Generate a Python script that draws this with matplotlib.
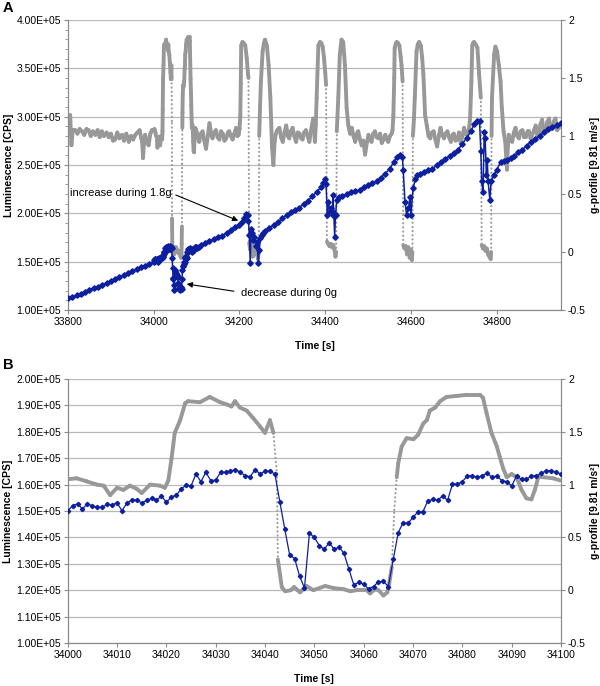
import numpy as np
import matplotlib.pyplot as plt
from matplotlib.collections import LineCollection
from matplotlib.ticker import FuncFormatter, MultipleLocator

plt.rcParams['font.family'] = ['Liberation Sans', 'DejaVu Sans']
plt.rcParams['font.size'] = 7.5

GRAY = '#989898'
BLUE = '#0c1f9e'
GRID = '#b8b8b8'
AXC = '#8a8a8a'

# ---- panel B : 34000-34100 s (luminescence every second, in 1e5 CPS)
lum_b_t = np.arange(34000, 34101)
lum_b = [1.500, 1.520, 1.527, 1.508, 1.527, 1.520, 1.514, 1.514, 1.525, 1.523,
         1.531, 1.501, 1.530, 1.542, 1.542, 1.530, 1.540, 1.548, 1.540, 1.557,
         1.533, 1.553, 1.560, 1.583, 1.598, 1.595, 1.640, 1.611, 1.647, 1.615,
         1.617, 1.647, 1.646, 1.651, 1.657, 1.647, 1.633, 1.630, 1.657, 1.640,
         1.651, 1.651, 1.640, 1.535, 1.432, 1.333, 1.320, 1.254, 1.208, 1.416,
         1.400, 1.369, 1.355, 1.380, 1.355, 1.363, 1.340, 1.280, 1.220, 1.230,
         1.223, 1.205, 1.214, 1.232, 1.233, 1.214, 1.317, 1.418, 1.456, 1.453,
         1.476, 1.497, 1.497, 1.538, 1.544, 1.540, 1.558, 1.540, 1.602, 1.602,
         1.611, 1.633, 1.633, 1.628, 1.633, 1.643, 1.628, 1.633, 1.615, 1.611,
         1.595, 1.633, 1.620, 1.620, 1.633, 1.633, 1.643, 1.653, 1.653, 1.647,
         1.640]

# g-profile (time, g)
g_b = [(34000, 1.05), (34001.8, 1.06), (34003.9, 1.03), (34005.9, 1.00), (34007.3, 0.99),
       (34008.6, 0.90), (34010, 0.97), (34011.3, 0.95), (34012.6, 0.99), (34014, 0.96),
       (34015, 0.92), (34016.7, 1.00), (34018.7, 0.99), (34019.7, 0.97), (34020.4, 1.04),
       (34021, 1.23), (34021.7, 1.49), (34022.8, 1.61), (34023.8, 1.77), (34024.4, 1.79),
       (34026.8, 1.78), (34028.8, 1.83), (34030.9, 1.78), (34032.2, 1.76), (34033.2, 1.74),
       (34033.9, 1.79), (34034.9, 1.73), (34036.3, 1.70), (34037.6, 1.63), (34039, 1.55),
       (34040, 1.49), (34041, 1.61), (34041.7, 1.49), (34042.4, 1.11), (34042.6, 0.29),
       (34043.4, 0.03), (34044.1, -0.01), (34045.2, 0.00), (34045.9, 0.03), (34046.6, 0.00),
       (34047.1, -0.02), (34048.4, 0.04), (34049.8, 0.00), (34052.2, 0.04), (34053.9, 0.02),
       (34055.9, 0.01), (34057.3, -0.01), (34058.6, 0.00), (34060.6, 0.00), (34061.3, -0.03),
       (34062.3, 0.01), (34063, 0.00), (34064, -0.05), (34064.8, -0.02), (34065.2, 0.07),
       (34065.7, 0.22), (34066.2, 0.76), (34066.7, 1.07), (34067, 1.20), (34067.7, 1.36),
       (34068.7, 1.44), (34070.1, 1.43), (34071, 1.47), (34072.1, 1.58), (34072.8, 1.61),
       (34073.4, 1.70), (34074.5, 1.73), (34075.5, 1.79), (34076.8, 1.83), (34078.9, 1.84),
       (34080.9, 1.85), (34083.6, 1.85), (34084.2, 1.82), (34084.9, 1.68), (34085.9, 1.49),
       (34087, 1.36), (34087.6, 1.26), (34088.3, 1.15), (34089, 1.07), (34090, 1.10),
       (34091, 1.07), (34092, 0.95), (34093, 0.87), (34094, 0.86), (34094.7, 0.95),
       (34095.4, 1.07), (34096.4, 1.07), (34098.4, 1.06), (34099.8, 1.04)]

# ---- panel A : whole run, outside the panel B window
lum_a_pre_t = np.arange(33800, 34000, 10)
lum_a_pre = [1.12, 1.13, 1.15, 1.17, 1.19, 1.21, 1.23, 1.24, 1.26, 1.28,
             1.30, 1.32, 1.34, 1.36, 1.38, 1.40, 1.42, 1.44, 1.46, 1.48]

lum_a_post = [(34105, 1.65), (34110, 1.67), (34120, 1.69), (34130, 1.71), (34140, 1.73),
              (34150, 1.75), (34160, 1.77), (34170, 1.80), (34180, 1.83), (34190, 1.86),
              (34200, 1.88), (34205, 1.91), (34210, 1.95), (34215, 1.99), (34219, 1.98),
              (34221, 1.92), (34223, 1.78), (34225, 1.49), (34227, 1.84), (34229, 1.80),
              (34232, 1.72), (34235, 1.75), (34238, 1.66), (34241, 1.70), (34244, 1.49),
              (34246, 1.62), (34249, 1.74), (34252, 1.78), (34256, 1.80), (34260, 1.82),
              (34270, 1.85), (34280, 1.88), (34290, 1.91), (34300, 1.95), (34310, 1.98),
              (34320, 2.01), (34330, 2.03), (34340, 2.06), (34350, 2.10), (34360, 2.13),
              (34370, 2.18), (34380, 2.22), (34390, 2.27), (34395, 2.31), (34400, 2.35),
              (34402, 2.30), (34405, 1.98), (34407, 2.12), (34411, 2.02), (34414, 2.05),
              (34417, 1.98), (34418, 2.19), (34420, 2.00), (34422, 1.76), (34424, 1.98),
              (34427, 2.14), (34432, 2.17), (34440, 2.18), (34450, 2.20), (34460, 2.22),
              (34470, 2.23), (34480, 2.24), (34490, 2.27), (34500, 2.29), (34510, 2.31),
              (34520, 2.33), (34530, 2.37), (34540, 2.41), (34550, 2.46), (34560, 2.53),
              (34567, 2.58), (34575, 2.60), (34580, 2.58), (34582, 2.45), (34586, 2.12),
              (34590, 1.98), (34594, 2.05), (34598, 2.17), (34600, 1.98), (34605, 2.26),
              (34610, 2.35), (34615, 2.40), (34620, 2.41), (34630, 2.43), (34640, 2.45),
              (34650, 2.46), (34660, 2.50), (34670, 2.53), (34680, 2.56), (34690, 2.59),
              (34700, 2.62), (34710, 2.66), (34720, 2.72), (34730, 2.78), (34740, 2.85),
              (34747, 2.92), (34755, 2.95), (34760, 2.95), (34763, 2.64), (34765, 2.33),
              (34768, 2.22), (34771, 2.84), (34773, 2.78), (34776, 2.40), (34778, 2.55),
              (34780, 2.33), (34784, 2.14), (34787, 2.33), (34794, 2.40), (34800, 2.45),
              (34809, 2.53), (34817, 2.54), (34825, 2.55), (34833, 2.57), (34840, 2.59),
              (34850, 2.63), (34860, 2.66), (34870, 2.70), (34880, 2.74), (34890, 2.77),
              (34900, 2.80), (34910, 2.84), (34920, 2.87), (34930, 2.89), (34940, 2.91),
              (34950, 2.93)]

g_a_pre = [(33800, 1.07), (33802, 1.06), (33805, 1.18), (33808, 0.92), (33811, 1.05),
           (33817, 1.05), (33822, 1.02), (33827, 1.06), (33833, 1.04), (33838, 1.01),
           (33843, 1.06), (33848, 1.05), (33853, 1.00), (33858, 1.04), (33864, 1.01),
           (33869, 1.05), (33874, 0.99), (33879, 1.04), (33884, 1.00), (33890, 1.03),
           (33895, 0.99), (33900, 1.02), (33905, 0.96), (33910, 0.97), (33915, 1.03),
           (33920, 0.98), (33926, 1.01), (33931, 0.96), (33936, 1.02), (33942, 0.95),
           (33947, 1.00), (33952, 0.97), (33957, 1.01), (33962, 1.03), (33967, 1.05),
           (33971, 0.98), (33973, 0.95), (33975, 0.81), (33977, 0.93), (33980, 1.01),
           (33984, 0.95), (33988, 0.92), (33992, 1.02), (33996, 1.05)]

g_a_post = [(34103, 0.98), (34106, 0.95), (34110, 1.02), (34114, 1.04), (34118, 0.96),
            (34122, 0.89), (34126, 1.00), (34130, 1.11), (34134, 1.02), (34137, 0.98),
            (34141, 1.03), (34145, 1.05), (34149, 0.99), (34153, 0.97), (34157, 1.04),
            (34161, 1.02), (34165, 0.96), (34169, 0.98), (34173, 1.03), (34176, 1.04),
            (34180, 1.00), (34184, 0.97), (34188, 1.02), (34192, 1.07), (34195, 1.00),
            (34198, 1.01), (34200, 1.06), (34202, 1.18), (34203, 1.45), (34204, 1.78),
            (34207, 1.81), (34210, 1.80), (34213.5, 1.78), (34217, 1.67), (34220, 1.53),
            (34221, 1.50), (34222.5, 0.08), (34225, 0.02), (34228, 0.07), (34231, -0.04),
            (34234, 0.05), (34237, -0.02), (34240, 0.04), (34243, -0.06), (34245, 0.00),
            (34246, 1.00), (34248, 1.25), (34250, 1.47), (34254, 1.73), (34257, 1.80),
            (34259.5, 1.83), (34262, 1.80), (34264, 1.78), (34268, 1.61), (34272, 1.33),
            (34276, 0.90), (34279, 0.75), (34282, 0.95), (34284, 1.01), (34288, 1.05),
            (34293, 1.07), (34297, 0.99), (34301, 0.95), (34305, 1.03), (34309, 1.09),
            (34313, 1.00), (34316, 0.98), (34320, 1.04), (34324, 1.07), (34328, 1.00),
            (34332, 0.95), (34336, 1.03), (34340, 1.02), (34344, 0.98), (34347, 0.97),
            (34351, 1.03), (34355, 1.05), (34359, 1.00), (34363, 0.95), (34367, 1.05),
            (34372, 1.15), (34376, 0.95), (34378, 1.10), (34380, 1.33), (34384, 1.78),
            (34388, 1.81), (34391, 1.80), (34394, 1.77), (34397, 1.68), (34400, 1.55),
            (34402, 1.44), (34404, 0.09), (34407, 0.07), (34410, 0.05), (34413, 0.07),
            (34416, 0.04), (34419, 0.06), (34422, 0.01), (34424, -0.04), (34425.5, 0.00),
            (34427, 1.04), (34430.5, 1.33), (34434, 1.70), (34438, 1.83), (34442, 1.81),
            (34446, 1.61), (34450, 1.24), (34454, 1.09), (34458, 1.02), (34462, 1.07),
            (34466, 1.00), (34470, 0.95), (34474, 1.02), (34477, 1.04), (34481, 0.97),
            (34485, 0.92), (34489, 0.96), (34493, 0.84), (34497, 0.94), (34501, 1.01),
            (34505, 0.97), (34508, 0.95), (34512, 1.02), (34516, 1.04), (34520, 0.99),
            (34524, 0.98), (34528, 1.02), (34532, 0.94), (34536, 0.97), (34540, 1.01),
            (34544, 0.97), (34547, 0.95), (34551, 1.00), (34555, 1.02), (34557, 1.05),
            (34559, 1.18), (34561, 1.50), (34562, 1.76), (34565, 1.80), (34567, 1.81),
            (34570, 1.80), (34573, 1.78), (34576, 1.68), (34578, 1.61), (34580.5, 1.47),
            (34582, 0.06), (34585, 0.03), (34588, 0.05), (34591, -0.02), (34594, 0.04),
            (34597, -0.05), (34600, 0.02), (34602, -0.07), (34603.5, 0.00), (34604.5, 1.00),
            (34607, 1.15), (34609, 1.33), (34613, 1.73), (34616, 1.79), (34619, 1.81),
            (34623, 1.78), (34626, 1.68), (34629, 1.53), (34633, 1.18), (34637, 1.09),
            (34641, 1.00), (34645, 0.98), (34649, 1.03), (34653, 1.04), (34657, 0.97),
            (34661, 0.91), (34665, 1.00), (34669, 1.07), (34673, 1.01), (34677, 0.98),
            (34681, 1.02), (34685, 1.04), (34689, 0.99), (34693, 0.95), (34697, 1.01),
            (34700, 1.02), (34704, 0.96), (34708, 0.97), (34712, 1.03), (34716, 0.94),
            (34720, 1.00), (34724, 1.07), (34728, 1.02), (34731, 1.01), (34735, 1.05),
            (34738, 1.15), (34741, 1.47), (34743, 1.78), (34745, 1.80), (34747, 1.81),
            (34751, 1.79), (34755, 1.76), (34759, 1.53), (34763, 1.33), (34765, 0.06),
            (34768, 0.03), (34771, 0.05), (34774, 0.01), (34777, 0.03), (34780, -0.02),
            (34783, -0.04), (34786, -0.06), (34787, 0.00), (34788, 1.00), (34789, 1.33),
            (34794, 1.70), (34797, 1.77), (34801, 1.73), (34805, 1.61), (34809, 1.47),
            (34812, 1.24), (34816, 1.04), (34820, 0.95), (34824, 0.71), (34826, 0.90),
            (34828, 1.01), (34832, 0.97), (34836, 0.95), (34840, 1.03), (34844, 1.07),
            (34848, 1.00), (34852, 0.98), (34856, 1.04), (34860, 1.05), (34864, 0.99),
            (34868, 0.99), (34872, 1.04), (34875, 1.04), (34879, 0.98), (34883, 1.01),
            (34887, 1.05), (34891, 1.09), (34895, 1.00), (34899, 1.02), (34902, 1.10),
            (34906, 1.14), (34910, 1.03), (34914, 1.05), (34918, 1.12), (34922, 1.15),
            (34926, 1.06), (34930, 1.09), (34934, 1.13), (34937, 1.15), (34941, 1.05),
            (34945, 1.07), (34949, 1.10), (34953, 1.09)]


def draw_g(ax, t, g, lw):
    # thick line, but fast jumps (in/out of 0g) drawn as dots like the logger plot
    t = np.asarray(t, float)
    g = np.asarray(g, float)
    pts = np.column_stack([t, g])
    segs = np.stack([pts[:-1], pts[1:]], axis=1)
    steep = np.abs(np.diff(g) / np.diff(t)) > 0.5
    ax.add_collection(LineCollection(segs[~steep], colors=GRAY, linewidths=lw,
                                     capstyle='round', joinstyle='round', zorder=2))
    ax.add_collection(LineCollection(segs[steep], colors=GRAY, linewidths=1.5,
                                     linestyles=[(0, (0.1, 1.9))], capstyle='round', zorder=2))


def style(ax, ax2, xlim, xstep, ylim, ystep, minor=None):
    ax.set_xlim(*xlim)
    ax.set_ylim(*ylim)
    ax2.set_ylim(-0.5, 2)
    ax.xaxis.set_major_locator(MultipleLocator(xstep))
    ax.xaxis.set_major_formatter(FuncFormatter(lambda v, p: '%d' % v))
    ax.yaxis.set_major_locator(MultipleLocator(ystep))
    ax.yaxis.set_major_formatter(FuncFormatter(lambda v, p: '%.2E' % v))
    if minor:
        ax.yaxis.set_minor_locator(MultipleLocator(minor))
    ax2.yaxis.set_major_locator(MultipleLocator(0.5))
    ax2.yaxis.set_major_formatter(FuncFormatter(lambda v, p: '%g' % v))
    ax.grid(True, axis='y', color=GRID, lw=0.9)
    ax.set_axisbelow(True)
    for a in (ax, ax2):
        a.spines['top'].set_visible(False)
        for s in a.spines.values():
            s.set_color(AXC)
        a.tick_params(which='both', direction='out', color=AXC, length=3, pad=2)
        a.tick_params(which='minor', length=2)
    ax.set_ylabel('Luminescence [CPS]', fontweight='bold', labelpad=2)
    ax2.set_ylabel('g-profile [9.81 m/s²]', fontweight='bold', labelpad=3)
    ax.set_xlabel('Time [s]', fontweight='bold', labelpad=10)


fig = plt.figure(figsize=(6, 6.86), dpi=100)

# panel A
axA = fig.add_axes([68 / 600, 1 - 310 / 686, 493 / 600, 290 / 686])
axA2 = axA.twinx()
gA = np.array(g_a_pre + g_b + g_a_post).T
draw_g(axA2, gA[0], gA[1], 2.8)
lA = np.array(lum_a_post).T
lum_a_t = np.concatenate([lum_a_pre_t, lum_b_t, lA[0]])
lum_a = np.concatenate([lum_a_pre, lum_b, lA[1]]) * 1e5
axA2.plot(lum_a_t, lum_a, color=BLUE, lw=1.1, marker='D', ms=2.8, mec=BLUE,
          transform=axA.transData, zorder=3)
style(axA, axA2, (33800, 34950), 200, (1e5, 4e5), 0.5e5, minor=1e4)

arw = dict(arrowstyle='-|>', color='black', lw=0.8, shrinkA=1, shrinkB=0, mutation_scale=8)
axA2.annotate('increase during 1.8g', xy=(34197, 1.924e5), xycoords=axA.transData,
              xytext=(34042, 2.207e5), textcoords=axA.transData, ha='right', va='center',
              fontsize=8, arrowprops=dict(arw, relpos=(1, 0.5)))
axA2.annotate('decrease during 0g', xy=(34077, 1.269e5), xycoords=axA.transData,
              xytext=(34203, 1.173e5), textcoords=axA.transData, ha='left', va='center',
              fontsize=8, arrowprops=dict(arw, relpos=(0, 0.6), shrinkA=3))

# panel B
axB = fig.add_axes([67.7 / 600, 1 - 643 / 686, 493.3 / 600, 264 / 686])
axB2 = axB.twinx()
gB = np.array(g_b).T
draw_g(axB2, gB[0], gB[1], 2.8)
axB2.plot(lum_b_t, np.array(lum_b) * 1e5, color=BLUE, lw=0.9, marker='D', ms=2.2,
          mec=BLUE, transform=axB.transData, zorder=3)
style(axB, axB2, (34000, 34100), 10, (1e5, 2e5), 1e4)

fig.text(3 / 600, 1 - 8 / 686, 'A', fontsize=10.5, fontweight='bold', va='center')
fig.text(3 / 600, 1 - 365 / 686, 'B', fontsize=10.5, fontweight='bold', va='center')

fig.savefig('out.png', dpi=100)
